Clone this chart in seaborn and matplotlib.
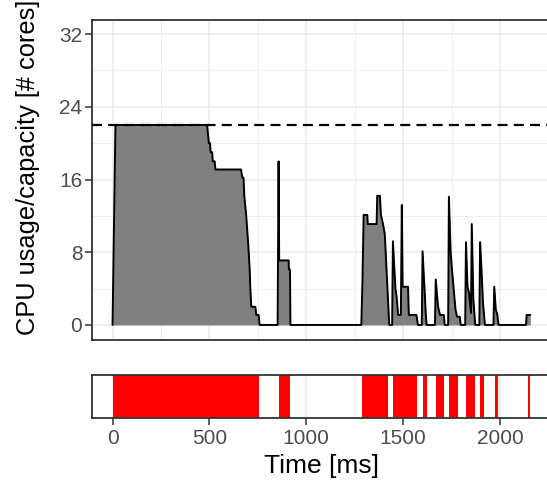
import numpy as np
import pandas as pd
import matplotlib
matplotlib.use("Agg")
import matplotlib.pyplot as plt
import seaborn as sns
from matplotlib.ticker import MultipleLocator

# CPU usage trace (time in ms, cores in use)
time_ms = [0, 15, 488, 497, 503, 506, 514, 517, 527, 531, 663, 670, 676, 680, 690,
           700, 708, 711, 716, 737, 742, 754, 759,
           852, 857, 860, 909, 910, 916, 918,
           1284, 1290, 1296, 1315, 1317, 1363, 1366, 1380, 1385, 1395, 1405, 1428,
           1443, 1447, 1460, 1466, 1474, 1488, 1493, 1497, 1525, 1529, 1568, 1576,
           1596, 1600, 1610, 1617, 1621,
           1664, 1668, 1680, 1690, 1710, 1714,
           1732, 1736, 1745, 1755, 1770, 1778, 1792, 1797,
           1820, 1824, 1832, 1840, 1850, 1854, 1862, 1868, 1872,
           1893, 1897, 1905, 1912, 1918, 1922,
           1966, 1970, 1978, 1986, 1992,
           2134, 2137, 2156]
cores = [0, 22, 22, 20, 20, 19, 19, 18, 18, 17.1, 17.1, 16.2, 16.2, 14.2, 12,
         9, 6, 4.1, 2.0, 2.0, 1.1, 1.1, 0,
         0, 18, 7.1, 7.1, 6.1, 6.1, 0,
         0, 5, 12.1, 12.1, 11.1, 11.1, 14.2, 14.2, 12.1, 11.2, 10.0, 0,
         0, 9.2, 4, 3.1, 1.1, 1.1, 13.2, 4.2, 4.2, 1.1, 1.1, 0,
         0, 8.1, 4, 1.1, 0,
         0, 5.0, 2.0, 1.1, 1.1, 0,
         0, 14.1, 7.9, 5.3, 1.7, 0.9, 0.9, 0,
         0, 9.1, 4.2, 3.5, 1.3, 11.1, 2.8, 1.1, 0,
         0, 9.1, 5.7, 2.4, 0.9, 0,
         0, 4.2, 1.7, 1.1, 0,
         0, 1.1, 1.1]
capacity = 22

# active periods (ms)
active_start = [3, 861, 1289, 1450, 1601, 1670, 1737, 1825, 1897, 1973, 2144]
active_end = [758, 914, 1423, 1570, 1622, 1711, 1785, 1869, 1918, 1991, 2153]

x_ticks = [0, 500, 1000, 1500, 2000]
y_ticks = [0, 8, 16, 24, 32]

sns.set_style("white")
plt.rcParams['font.family'] = ['Liberation Sans', 'DejaVu Sans']

df = pd.DataFrame({'time': time_ms, 'cores': cores})

fig = plt.figure(figsize=(5.47, 4.93), dpi=100)
W, H = 547, 493
left, right = 92, 552
ax1 = fig.add_axes([left / W, 1 - 339.5 / H, (right - left) / W, 320 / H])
ax2 = fig.add_axes([left / W, 1 - 418 / H, (right - left) / W, 43 / H])

grid_col = '#EBEBEB'
border_col = '#333333'
text_col = '#4D4D4D'
tick_fs = 15
title_fs = 19

ax1.fill_between(df['time'], df['cores'], 0, color='#808080', lw=0, zorder=2)
sns.lineplot(data=df, x='time', y='cores', ax=ax1, color='black', lw=1.4,
             sort=False, estimator=None, zorder=3)
ax1.axhline(capacity, color='black', lw=1.6, ls=(0, (4.5, 2.8)), zorder=4)

xlim = (-106, 2268)
ax1.set_xlim(xlim)
ax1.set_ylim(-1.6, 33.6)
ax1.set_yticks(y_ticks)
ax1.set_xticks(x_ticks)
ax1.xaxis.set_minor_locator(MultipleLocator(250))
ax1.yaxis.set_minor_locator(MultipleLocator(4))
ax1.tick_params(axis='x', which='both', bottom=False, labelbottom=False)
ax1.tick_params(axis='y', which='major', left=True, length=5, width=1.1,
                color=border_col, labelsize=tick_fs, labelcolor=text_col, pad=2)
ax1.tick_params(axis='y', which='minor', left=False)
ax1.grid(True, which='major', color=grid_col, lw=1.1, zorder=0)
ax1.grid(True, which='minor', color=grid_col, lw=0.6, zorder=0)
ax1.set_axisbelow(True)
ax1.set_xlabel('')
ax1.set_ylabel('')

for s, e in zip(active_start, active_end):
    ax2.axvspan(s, e, color='#FF0000', lw=0, zorder=2)
ax2.set_xlim(xlim)
ax2.set_ylim(0, 1)
ax2.set_yticks([])
ax2.set_xticks(x_ticks)
ax2.xaxis.set_minor_locator(MultipleLocator(250))
ax2.tick_params(axis='x', which='major', bottom=True, length=5, width=1.1,
                color=border_col, labelsize=tick_fs, labelcolor=text_col, pad=3)
ax2.tick_params(axis='x', which='minor', bottom=False)
ax2.grid(True, axis='x', which='major', color=grid_col, lw=1.1, zorder=0)
ax2.grid(True, axis='x', which='minor', color=grid_col, lw=0.6, zorder=0)
ax2.set_axisbelow(True)
ax2.set_xlabel('Time [ms]', fontsize=title_fs, color='black', labelpad=4)

for ax in (ax1, ax2):
    for sp in ax.spines.values():
        sp.set_color(border_col)
        sp.set_linewidth(1.3)
        sp.set_visible(True)

fig.text(28 / W, 1 - 335 / H, 'CPU usage/capacity [# cores]', rotation=90,
         ha='center', va='bottom', fontsize=18.3, color='black')

fig.savefig('out.png', dpi=100)
